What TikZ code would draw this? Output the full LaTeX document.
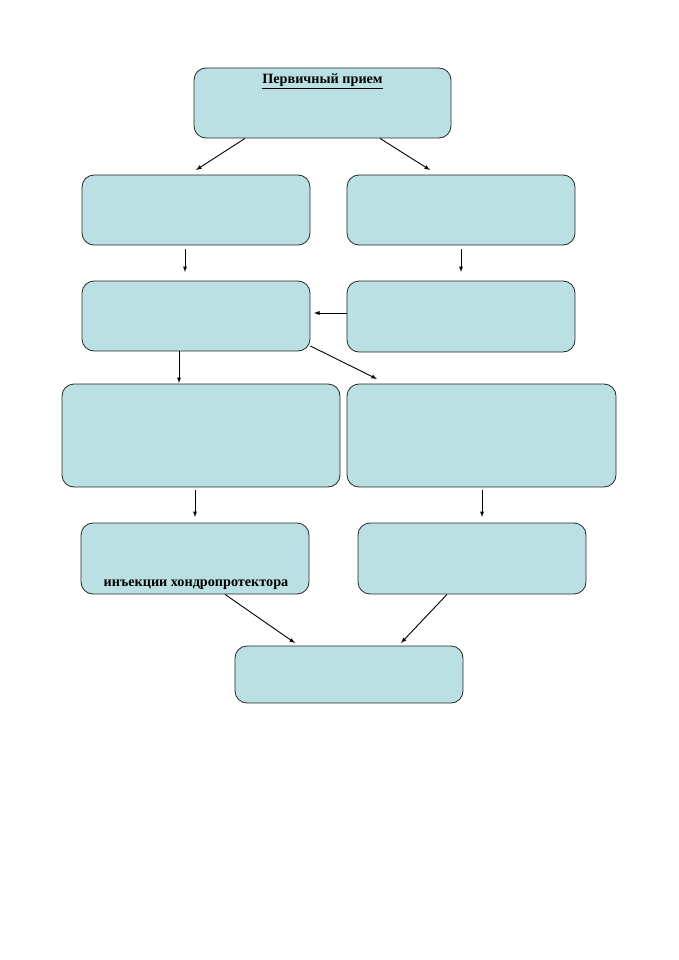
\documentclass[tikz,border=0pt]{standalone}
\usepackage{fontspec}
\setmainfont{Liberation Serif}
\definecolor{boxfill}{RGB}{187,224,228}
\tikzset{
	box/.style={draw=black!85, fill=boxfill, rounded corners=12pt, line width=.8pt, inner sep=0pt},
	arr/.style={-latex, line width=.9pt},
	lbl/.style={font=\bfseries\fontsize{14.2}{16}\selectfont}
}
\begin{document}
\begin{tikzpicture}[x=1pt,y=-1pt]
	\useasboundingbox (0,0) rectangle (678,960);
	% boxes
	\node[box, minimum width=257, minimum height=70] (prim) at (322.5,103) {};
	\node[lbl] (primtxt) at (322.5,81) {\underline{Первичный прием}};
	\node[box, minimum width=228, minimum height=70] (bl) at (196,210) {};
	\node[box, minimum width=228, minimum height=70] (br) at (461,210) {};
	\node[box, minimum width=228, minimum height=70] (cl) at (196,316) {};
	\node[box, minimum width=228, minimum height=71] (cr) at (461,316.5) {};
	\node[box, minimum width=278, minimum height=103] (dl) at (201,435.5) {};
	\node[box, minimum width=269, minimum height=103] (dr) at (481.5,435.5) {};
	\node[box, minimum width=228, minimum height=71] (el) at (195,558.5) {};
	\node[lbl] (eltxt) at (196,585) {инъекции хондропротектора};
	\node[box, minimum width=228, minimum height=71] (er) at (472,558.5) {};
	\node[box, minimum width=228, minimum height=57] (fin) at (349,674.5) {};
	% arrow ends
	\coordinate (t1) at (196,170);
	\coordinate (t2) at (430,170);
	\coordinate (t3) at (185,272);
	\coordinate (t4) at (461,272);
	\coordinate (t5) at (314,313);
	\coordinate (t6) at (377,379);
	\coordinate (t7) at (179,383);
	\coordinate (t8) at (195,517);
	\coordinate (t9) at (482,517);
	\coordinate (t10) at (295,643);
	\coordinate (t11) at (401,643);
	% arrows
	\draw[arr] ([xshift=-77.5]prim.south) -- (t1);
	\draw[arr] ([xshift=57.5]prim.south) -- (t2);
	\draw[arr] ([xshift=-11, yshift=-4]bl.south) -- (t3);
	\draw[arr] ([yshift=-4]br.south) -- (t4);
	\draw[arr] ([yshift=3.5]cr.west) -- (t5);
	\draw[arr] ([yshift=-30]cl.east) -- (t6);
	\draw[arr] ([xshift=-17]cl.south) -- (t7);
	\draw[arr] ([xshift=-6, yshift=-3]dl.south) -- (t8);
	\draw[arr] ([xshift=0.5, yshift=-3]dr.south) -- (t9);
	\draw[arr] ([xshift=30]el.south) -- (t10);
	\draw[arr] ([xshift=-25]er.south) -- (t11);
\end{tikzpicture}
\end{document}
